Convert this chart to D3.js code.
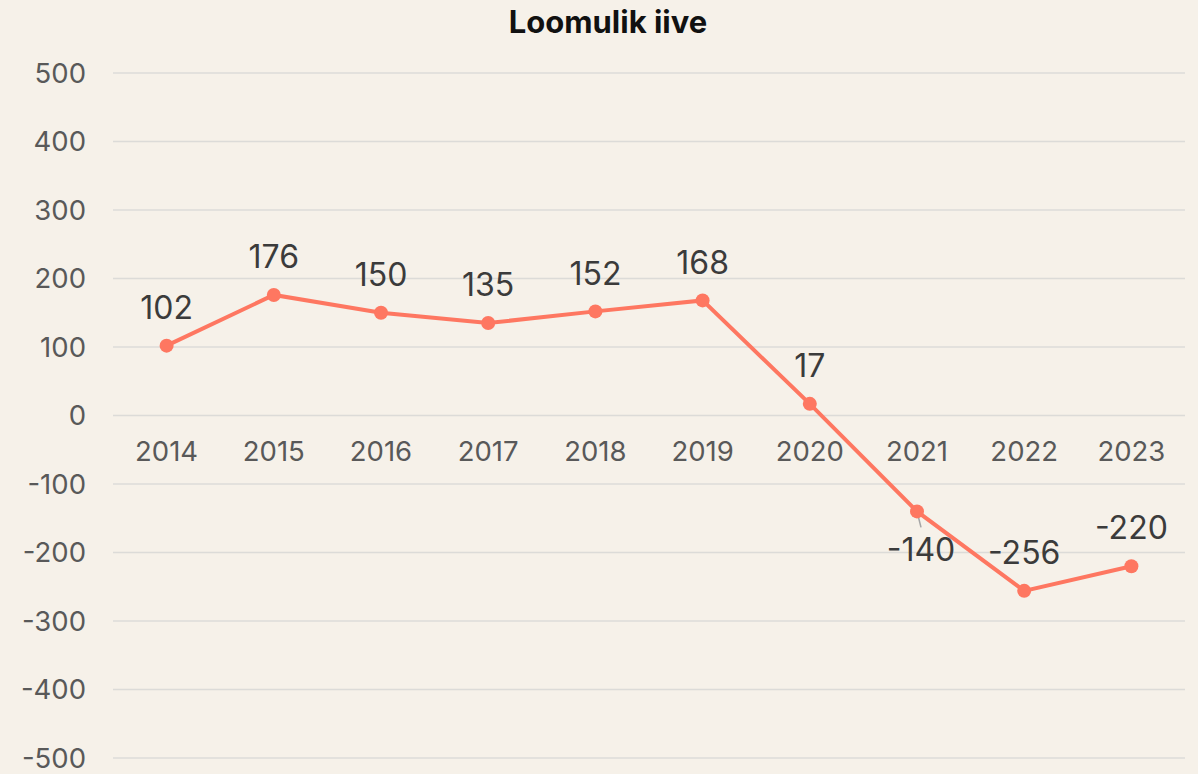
<!DOCTYPE html>
<html>
<head>
<meta charset="utf-8">
<script src="https://cdn.jsdelivr.net/npm/d3@7"></script>
<style>
  body { margin: 0; background: #f6f1e9; }
  svg { display: block; font-family: Inter, "Noto Sans", sans-serif; }
</style>
</head>
<body>
<script>
var w = 1198;
var h = 774;

var years = ["2014", "2015", "2016", "2017", "2018", "2019", "2020", "2021", "2022", "2023"];
var values = [102, 176, 150, 135, 152, 168, 17, -140, -256, -220];
var yTicks = [500, 400, 300, 200, 100, 0, -100, -200, -300, -400, -500];
var below = ["2021"];

var data = years.map(function(y, i) { return {year: y, value: values[i]}; });

var x = d3.scaleBand().domain(years).range([113, 1185]);
var y = d3.scaleLinear().domain([-500, 500]).range([758, 73]);

var svg = d3.select("body")
            .append("svg")
              .attr("width", w)
              .attr("height", h);

svg.append("text")
  .attr("x", 608)
  .attr("y", 33)
  .attr("text-anchor", "middle")
  .attr("font-size", "31px")
  .attr("font-weight", "bold")
  .attr("fill", "#111")
  .text("Loomulik iive");

// grid + y labels
svg.selectAll("line.grid")
  .data(yTicks)
  .enter()
  .append("line")
    .attr("class", "grid")
    .attr("x1", 113)
    .attr("x2", 1185)
    .attr("y1", function(d) { return y(d); })
    .attr("y2", function(d) { return y(d); })
    .attr("stroke", "#dcdbd8")
    .attr("stroke-width", 1.5);

svg.selectAll("text.ylab")
  .data(yTicks)
  .enter()
  .append("text")
    .attr("class", "ylab")
    .attr("x", 86)
    .attr("y", function(d) { return y(d); })
    .attr("dy", "0.35em")
    .attr("text-anchor", "end")
    .attr("font-size", "27.5px")
    .attr("fill", "#595959")
    .text(function(d) { return d; });

// x labels under zero line
svg.selectAll("text.xlab")
  .data(years)
  .enter()
  .append("text")
    .attr("class", "xlab")
    .attr("x", function(d) { return x(d) + x.bandwidth() / 2; })
    .attr("y", y(0) + 36)
    .attr("dy", "0.35em")
    .attr("text-anchor", "middle")
    .attr("font-size", "27.5px")
    .attr("fill", "#595959")
    .text(function(d) { return d; });

var cx = function(d) { return x(d.year) + x.bandwidth() / 2; };

var line = d3.line()
  .x(cx)
  .y(function(d) { return y(d.value); });

svg.append("path")
  .datum(data)
  .attr("d", line)
  .attr("fill", "none")
  .attr("stroke", "#fe7761")
  .attr("stroke-width", 4);

// leader lines for labels placed below
svg.selectAll("line.leader")
  .data(data.filter(function(d) { return below.indexOf(d.year) >= 0; }))
  .enter()
  .append("line")
    .attr("class", "leader")
    .attr("x1", function(d) { return cx(d); })
    .attr("y1", function(d) { return y(d.value); })
    .attr("x2", function(d) { return cx(d) + 4; })
    .attr("y2", function(d) { return y(d.value) + 16; })
    .attr("stroke", "#a6a6a6")
    .attr("stroke-width", 1.5);

svg.selectAll("circle")
  .data(data)
  .enter()
  .append("circle")
    .attr("cx", cx)
    .attr("cy", function(d) { return y(d.value); })
    .attr("r", 7)
    .attr("fill", "#fe7761");

svg.selectAll("text.val")
  .data(data)
  .enter()
  .append("text")
    .attr("class", "val")
    .attr("x", function(d) { return below.indexOf(d.year) >= 0 ? cx(d) + 4 : cx(d); })
    .attr("y", function(d) {
      return below.indexOf(d.year) >= 0 ? y(d.value) + 38 : y(d.value) - 38;
    })
    .attr("dy", "0.35em")
    .attr("text-anchor", "middle")
    .attr("font-size", "32px")
    .attr("fill", "#3b3b3b")
    .text(function(d) { return d.value; });
</script>
</body>
</html>
